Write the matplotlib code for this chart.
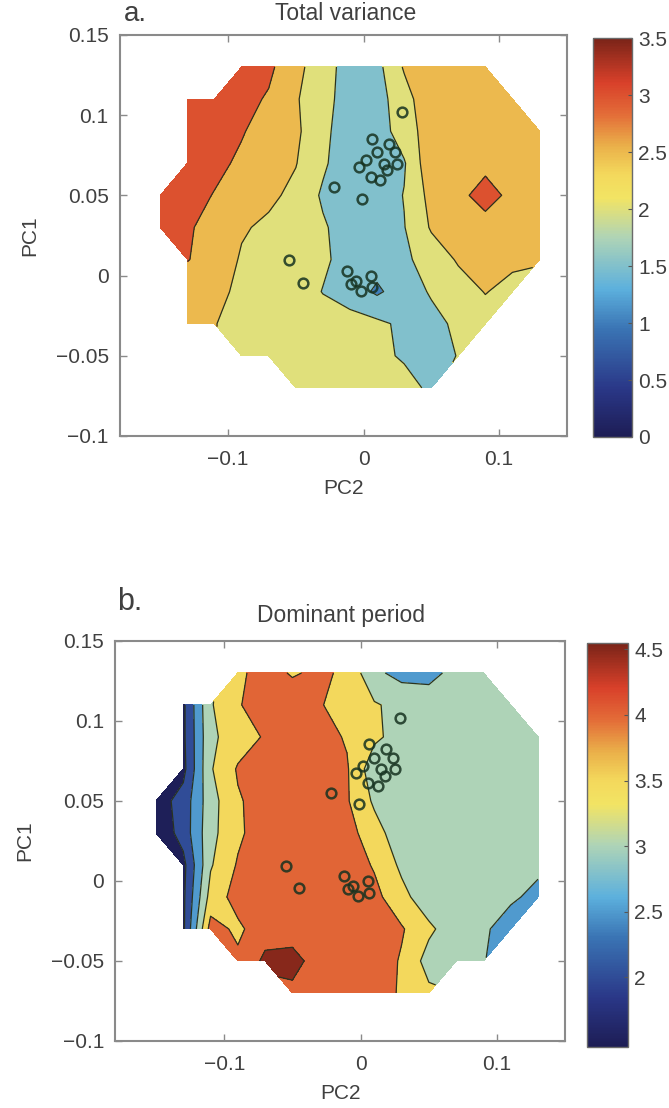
import numpy as np
import matplotlib
matplotlib.use("Agg")
import matplotlib.pyplot as plt
from matplotlib.colors import LinearSegmentedColormap, Normalize
from matplotlib.cm import ScalarMappable

# ---------------------------------------------------------------- data
nan = np.nan

# grid nodes of the PCA space
pc2_grid = np.array([-0.15, -0.13, -0.11, -0.09, -0.07, -0.05, -0.03, -0.01,
                     0.01, 0.03, 0.05, 0.07, 0.09, 0.11, 0.13])
pc1_grid = np.array([0.13, 0.11, 0.09, 0.07, 0.05, 0.03, 0.01,
                     -0.01, -0.03, -0.05, -0.07])

# total variance on the grid (rows follow pc1_grid, columns pc2_grid)
total_variance = np.array([
    [nan, nan, nan, 3.20, 3.10, 2.65, 2.20, 1.80, 1.85, 2.55, 2.75, 2.80, 2.80, nan, nan],
    [nan, 3.30, 3.25, 3.15, 2.95, 2.55, 2.15, 1.80, 1.80, 2.30, 2.87, 2.85, 2.80, 2.75, nan],
    [nan, 3.35, 3.20, 3.03, 2.83, 2.59, 2.14, 1.68, 1.70, 2.30, 2.70, 2.85, 2.85, 2.80, 2.75],
    [nan, 3.30, 3.10, 2.93, 2.75, 2.52, 2.08, 1.67, 1.70, 1.95, 2.87, 2.90, 2.90, 2.85, 2.80],
    [3.30, 3.15, 2.98, 2.80, 2.60, 2.38, 1.93, 1.70, 1.70, 2.02, 2.66, 2.90, 3.15, 2.90, 2.85],
    [3.20, 3.05, 2.85, 2.55, 2.41, 2.30, 2.06, 1.76, 1.70, 1.98, 2.55, 2.80, 2.85, 2.80, 2.75],
    [nan, 3.02, 2.80, 2.45, 2.30, 2.25, 2.10, 1.77, 1.70, 1.90, 2.23, 2.55, 2.65, 2.60, 2.55],
    [nan, 2.70, 2.60, 2.42, 2.30, 2.30, 1.98, 1.75, 1.42, 1.75, 2.05, 2.30, 2.52, 2.35, nan],
    [nan, 2.60, 2.52, 2.30, 2.30, 2.30, 2.25, 2.20, 2.10, 1.90, 1.85, 2.10, 2.30, nan, nan],
    [nan, nan, nan, 2.30, 2.30, 2.30, 2.25, 2.20, 2.10, 1.95, 1.80, 2.02, nan, nan, nan],
    [nan, nan, nan, nan, nan, 2.30, 2.30, 2.25, 2.20, 2.15, 1.92, nan, nan, nan, nan],
])

# dominant period on the same grid
dominant_period = np.array([
    [nan, nan, nan, 3.90, 4.20, 3.95, 4.10, 3.90, 3.10, 2.85, 2.80, 3.20, 3.20, nan, nan],
    [nan, 1.90, 3.45, 3.95, 4.30, 4.30, 4.05, 3.70, 3.55, 3.35, 3.35, 3.20, 3.20, 3.15, nan],
    [nan, 1.90, 3.40, 3.75, 4.05, 4.30, 4.20, 3.95, 3.60, 3.30, 3.20, 3.20, 3.20, 3.20, 3.15],
    [nan, 1.85, 3.45, 4.05, 4.30, 4.35, 4.30, 4.05, 3.18, 3.20, 3.25, 3.20, 3.20, 3.20, 3.15],
    [1.75, 2.20, 3.30, 3.95, 4.20, 4.40, 4.35, 4.05, 3.42, 3.25, 3.20, 3.20, 3.20, 3.20, 3.15],
    [1.60, 2.20, 3.35, 3.90, 4.30, 4.40, 4.40, 4.20, 3.70, 3.20, 3.20, 3.20, 3.20, 3.20, 3.20],
    [nan, 1.85, 3.45, 4.05, 4.30, 4.35, 4.30, 4.30, 3.95, 3.40, 3.20, 3.20, 3.20, 3.20, 3.20],
    [nan, 1.90, 3.70, 4.20, 4.30, 4.30, 4.30, 4.30, 4.15, 3.65, 3.20, 3.20, 3.20, 3.15, 2.75],
    [nan, 1.90, 4.20, 3.90, 4.30, 4.30, 4.30, 4.30, 4.30, 4.05, 3.60, 3.20, 3.15, 2.55, nan],
    [nan, nan, nan, 4.10, 4.60, 4.65, 4.30, 4.30, 4.30, 3.95, 3.30, 3.20, 3.05, nan, nan],
    [nan, nan, nan, nan, nan, 4.40, 4.30, 4.30, 4.20, 3.95, 3.60, nan, nan, nan, nan],
])

# observed samples projected into the PCA space
sample_pc2 = [0.0286, 0.0064, 0.0187, 0.0236, 0.0150, -0.0035, 0.0052, 0.0125,
              0.0101, 0.0015, 0.0249, 0.0175, -0.0219, -0.0010, -0.0550, -0.0450,
              -0.0120, -0.0059, -0.0022, 0.0052, 0.0064, -0.0096]
sample_pc1 = [0.1020, 0.0854, 0.0823, 0.0771, 0.0698, 0.0677, 0.0615, 0.0594,
              0.0771, 0.0719, 0.0698, 0.0656, 0.0552, 0.0479, 0.0094, -0.0045,
              0.0031, -0.0031, -0.0094, 0.0000, -0.0073, -0.0052]

variance_levels = [0.0, 0.5, 1.0, 1.5, 2.0, 2.5, 3.0, 3.5, 4.0]
period_levels = [1.0, 1.5, 2.0, 2.5, 3.0, 3.5, 4.0, 4.5, 5.0]
variance_range = (0.0, 3.5)
period_range = (1.47, 4.55)
variance_ticks = [0, 0.5, 1, 1.5, 2, 2.5, 3, 3.5]
period_ticks = [2, 2.5, 3, 3.5, 4, 4.5]
pc1_ticks = [-0.1, -0.05, 0, 0.05, 0.1, 0.15]
pc2_ticks = [-0.1, 0, 0.1]

# ---------------------------------------------------------------- style
plt.rcParams["font.family"] = ["Liberation Sans", "DejaVu Sans"]
plt.rcParams["axes.unicode_minus"] = True
TEXT = "#404040"
SPINE = "#8a8a8a"

cmap = LinearSegmentedColormap.from_list("muted_jet", [
    (0.00, "#1d1d55"),
    (0.12, "#2a3787"),
    (0.27, "#3a74b4"),
    (0.37, "#5cb0dd"),
    (0.50, "#afd4b6"),
    (0.60, "#f2e464"),
    (0.66, "#f3d85c"),
    (0.73, "#eab04a"),
    (0.81, "#e36c38"),
    (0.89, "#d8402a"),
    (1.00, "#7a2418"),
])


def fmt(v):
    return "{:g}".format(v).replace("-", "\u2212")


def draw_panel(ax, cax, field, levels, vrange, cticks):
    norm = Normalize(*vrange)
    band_colors = [cmap(norm(lv)) for lv in levels[:-1]]
    X, Y = np.meshgrid(pc2_grid, pc1_grid)
    Z = np.ma.masked_invalid(field)
    ax.contourf(X, Y, Z, levels=levels, colors=band_colors, corner_mask=True)
    ax.contour(X, Y, Z, levels=levels, colors="#2a331f", linewidths=0.9,
               corner_mask=True)
    ax.plot(sample_pc2, sample_pc1, "o", mfc="none", mec="#163220", mew=1.8,
            ms=7, alpha=0.85)

    ax.set_xlim(-0.18, 0.15)
    ax.set_ylim(-0.1, 0.15)
    ax.set_xticks(pc2_ticks)
    ax.set_yticks(pc1_ticks)
    ax.set_xticklabels([fmt(t) for t in pc2_ticks])
    ax.set_yticklabels([fmt(t) for t in pc1_ticks])
    ax.tick_params(direction="in", length=5, width=1, color=SPINE,
                   labelsize=15, labelcolor=TEXT, top=True, right=True, pad=8)
    ax.tick_params(axis="x", pad=10)
    for s in ax.spines.values():
        s.set_color(SPINE)
        s.set_linewidth(1.5)
    ax.set_xlabel("PC2", fontsize=15, color=TEXT, labelpad=7)
    ax.set_ylabel("PC1", fontsize=15, color=TEXT, labelpad=12)

    cb = plt.colorbar(ScalarMappable(norm=norm, cmap=cmap), cax=cax)
    cb.set_ticks(cticks)
    cb.set_ticklabels([fmt(t) for t in cticks])
    cb.ax.tick_params(direction="in", length=3, color="#555555",
                      labelsize=15, labelcolor=TEXT, pad=5)
    cb.outline.set_edgecolor("#6a6a6a")
    cb.outline.set_linewidth(1.0)


fig = plt.figure(figsize=(6.69, 11.08), dpi=100)

ax_a = fig.add_axes([0.179, 0.6065, 0.668, 0.362])
cax_a = fig.add_axes([0.886, 0.6056, 0.058, 0.360])
ax_b = fig.add_axes([0.172, 0.0605, 0.673, 0.361])
cax_b = fig.add_axes([0.877, 0.0550, 0.061, 0.365])

draw_panel(ax_a, cax_a, total_variance, variance_levels, variance_range, variance_ticks)
draw_panel(ax_b, cax_b, dominant_period, period_levels, period_range, period_ticks)

H = 1108.0
W = 669.0
fig.text(124 / W, 1 - 21 / H, "a.", fontsize=20, color=TEXT, va="baseline")
fig.text(346 / W, 1 - 20 / H, "Total variance", fontsize=16.5, color=TEXT,
         ha="center", va="baseline")
fig.text(117 / W, 1 - 610 / H, "b.", fontsize=22, color=TEXT, va="baseline")
fig.text(341 / W, 1 - 622 / H, "Dominant period", fontsize=16.5, color=TEXT,
         ha="center", va="baseline")

fig.savefig("out.png", dpi=100, facecolor="white")
